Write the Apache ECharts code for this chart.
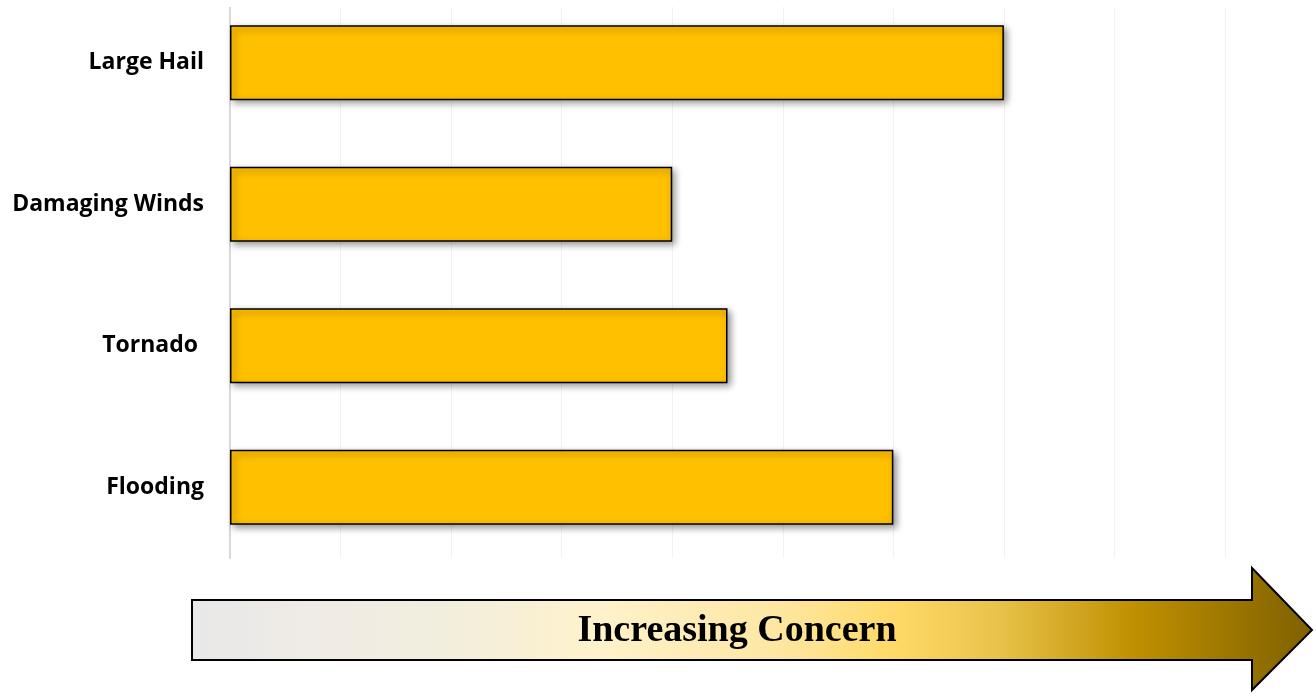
<!DOCTYPE html>
<html>
<head>
<meta charset="utf-8">
<script src="https://cdn.jsdelivr.net/npm/echarts@6/dist/echarts.min.js"></script>
<style>
html,body{margin:0;padding:0;background:#fff;overflow:hidden;}
#main{width:1316px;height:714px;margin-top:-16px;}
</style>
</head>
<body>
<div id="main"></div>
<script>
const categories = ["Flooding", "Tornado ", "Damaging Winds", "Large Hail"];
const concernValues = [6, 4.5, 4, 7];
const axisMax = 9;
const arrowLabel = "Increasing Concern";

const OFF = 16; // canvas is shifted up by this many px
const chart = echarts.init(document.getElementById('main'), null, {renderer: 'canvas'});
chart.setOption({
  backgroundColor: '#ffffff',
  animation: false,
  grid: {left: 230, right: 91, top: 8, bottom: 140, containLabel: false},
  xAxis: {
    type: 'value', min: 0, max: axisMax, interval: 1,
    axisLine: {show: false}, axisTick: {show: false}, axisLabel: {show: false},
    splitLine: {show: true, lineStyle: {color: '#f2f2f2', width: 1}}
  },
  yAxis: {
    type: 'category', data: categories,
    axisLine: {show: true, lineStyle: {color: '#d9d9d9', width: 2}},
    axisTick: {show: false},
    axisLabel: {margin: 26, color: '#000', fontFamily: 'Open Sans', fontWeight: 'bold', fontSize: 23}
  },
  series: [{
    type: 'bar', data: concernValues, barCategoryGap: '47%',
    itemStyle: {
      color: '#FFC000', borderColor: '#000', borderWidth: 1.5,
      shadowColor: 'rgba(0,0,0,0.45)', shadowBlur: 7, shadowOffsetX: 3, shadowOffsetY: 3
    }
  }],
  graphic: [{
    type: 'rect', silent: true, z: 100,
    shape: {x: 220, y: 0, width: 1096, height: 7 + OFF},
    style: {fill: '#ffffff'}
  }, {
    type: 'polygon', z: 100,
    shape: {points: [[192,600+OFF],[1252,600+OFF],[1252,568+OFF],[1312,630+OFF],[1252,690+OFF],[1252,660+OFF],[192,660+OFF]]},
    style: {
      fill: new echarts.graphic.LinearGradient(0, 0, 1, 0, [
        {offset: 0, color: '#E8E8E8'},
        {offset: 0.1, color: '#EFEBE6'},
        {offset: 0.23, color: '#F2EEDD'},
        {offset: 0.36, color: '#FFF2CC'},
        {offset: 0.52, color: '#FEE7A4'},
        {offset: 0.63, color: '#FFD966'},
        {offset: 0.72, color: '#E8C24A'},
        {offset: 0.84, color: '#BF9000'},
        {offset: 1, color: '#7F6000'}
      ]),
      stroke: '#000', lineWidth: 2
    }
  }, {
    type: 'text', x: 737, y: 631 + OFF, z: 101,
    style: {
      text: arrowLabel, fill: '#000', font: 'bold 38px "Liberation Serif"',
      textAlign: 'center', textVerticalAlign: 'middle'
    }
  }]
});
</script>
</body>
</html>
